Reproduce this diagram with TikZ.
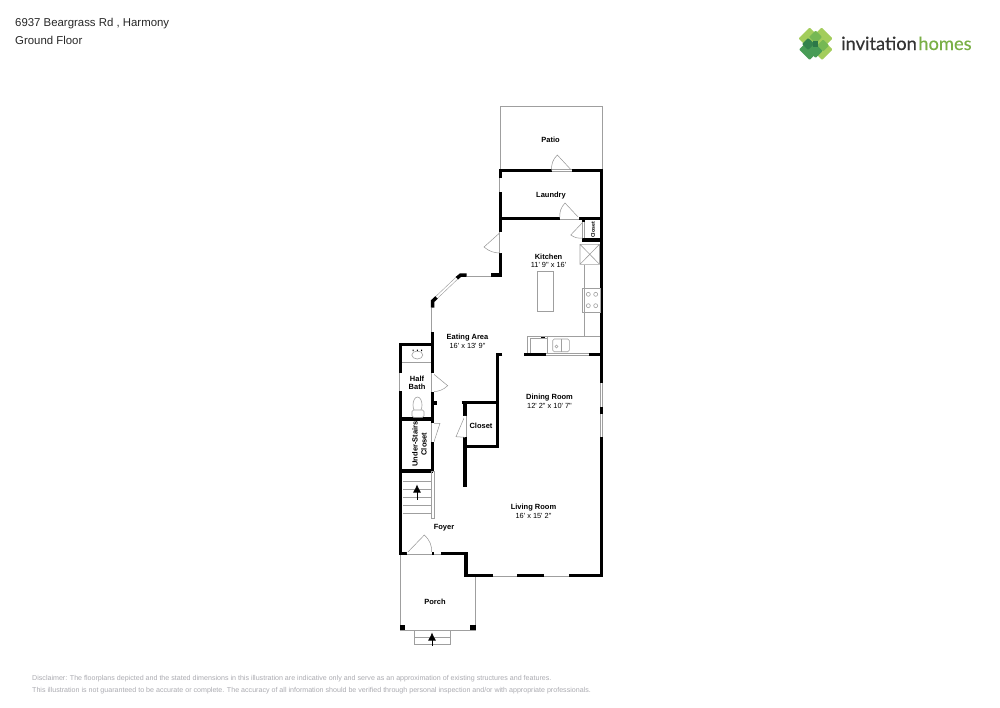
\documentclass[tikz,border=0pt]{standalone}
\usepackage{fontspec}
\newfontfamily\planfont{Liberation Sans}
\newfontfamily\logofont[FakeBold=0.3]{Lato}
\usetikzlibrary{arrows.meta}
\definecolor{leaf}{RGB}{163,205,92}
\definecolor{moss}{RGB}{118,184,84}
\definecolor{fern}{RGB}{72,156,86}
\definecolor{pine}{RGB}{44,120,72}
\definecolor{homes}{RGB}{122,175,70}
\definecolor{fineprint}{RGB}{170,170,176}
\begin{document}
\begin{tikzpicture}[x=1pt,y=-1pt,
    wall/.style={line width=3.5pt,black},
    pane/.style={draw=gray!75,line width=0.6pt,double=white,double distance=1.8pt},
    fixture/.style={draw=gray!75,line width=0.6pt},
    swing/.style={draw=gray!85,line width=0.5pt},
    room/.style={font=\planfont\bfseries\fontsize{7.5}{8}\selectfont,inner sep=0pt},
    size/.style={font=\planfont\fontsize{7.4}{8}\selectfont,inner sep=0pt},
    fine/.style={font=\planfont\fontsize{7.1}{8}\selectfont,text=fineprint,inner sep=0pt,anchor=base west},
    head/.style={font=\planfont\fontsize{11.4}{13}\selectfont,text=black!85,inner sep=0pt,anchor=base west}]
    \useasboundingbox (0,0) rectangle (1000,707);
    % Header
    \node[head] (address) at (15,26) {6937 Beargrass Rd , Harmony};
    \node[head] (floor) at (15,44) {Ground Floor};
    % Logo
    \foreach \x/\y/\r/\c in {809.5/38.5/11/leaf, 821.5/38.5/11/leaf, 822/49.5/10.5/leaf, 809.5/49.5/10.5/fern,
        815.5/37/6.5/moss, 823/45.5/6/moss, 815.5/51/7/fern, 808/44/6/pine!70!fern}
        \fill[\c,rounded corners=1pt] (\x-\r,\y) -- (\x,\y-\r) -- (\x+\r,\y) -- (\x,\y+\r) -- cycle;
    \fill[pine] (812.5,41) rectangle (818,47);
    \node[inner sep=0pt,anchor=base west,font=\logofont\fontsize{18.3}{20}\selectfont] (logotext) at (841,50)
        {\textcolor{black!80}{invitation}\kern1.5pt\textcolor{homes}{homes}};
    % Patio and porch
    \draw[fixture] (500,170) -- (500,106.7) -- (602,106.7) -- (602,170);
    \draw[fixture] (400,553) -- (400,630) -- (475,630) -- (475,575);
    \fill (399.5,624.5) rectangle (405,630);
    \fill (470,624.5) rectangle (475.5,630);
    \draw[fixture] (414.3,630) rectangle (450,644.3) (414.3,637.3) -- (450,637.3);
    % Outer walls
    \draw[wall] (551.7,170.5) -- (500.7,170.5) -- (500.7,178);
    \draw[wall] (571.7,170.5) -- (601.5,170.5) -- (601.5,383);
    \draw[wall] (601.5,407) -- (601.5,414);
    \draw[wall] (601.5,437) -- (601.5,575.3) -- (569,575.3);
    \draw[wall] (544.3,575.3) -- (516.7,575.3);
    \draw[wall] (492.7,575.3) -- (466,575.3) -- (466,553.3) -- (441,553.3);
    \draw[wall] (434,553.3) -- (431.7,553.3);
    \draw[wall] (406.7,553.3) -- (400.7,553.3) -- (400.7,391);
    \draw[wall] (400.7,373) -- (400.7,344.3) -- (432.7,344.3);
    \draw[wall] (500.7,192) -- (500.7,232);
    \draw[wall] (500.7,253) -- (500.7,275) -- (491,275);
    \draw[wall] (466.7,275) -- (460.7,275) -- (456.7,278.3);
    \draw[wall] (436.7,297.3) -- (432.7,301) -- (432.7,307.7);
    \draw[wall] (432.7,331.7) -- (432.7,373.3);
    \draw[wall] (432.7,391.7) -- (432.7,423.3);
    \draw[wall] (432.7,441.7) -- (432.7,471);
    % Inner walls
    \draw[wall] (432.7,403) -- (437,403);
    \draw[wall] (400.7,419) -- (432.7,419);
    \draw[wall] (400.7,471) -- (432.7,471);
    \draw[wall] (500.7,218.3) -- (560,218.3);
    \draw[wall] (579.3,218.3) -- (601.5,218.3);
    \draw[wall] (583.5,218.3) -- (583.5,222);
    \draw[wall] (583.5,238) -- (583.5,240) -- (601.5,240);
    \draw[wall] (524.3,354.5) -- (546,354.5);
    \draw[wall] (589.3,354.5) -- (601.5,354.5);
    \draw[wall] (502.3,354.3) -- (497.3,354.3) -- (497.3,446.5) -- (465,446.5);
    \draw[wall] (461.7,402.7) -- (497.3,402.7);
    \draw[wall] (465,402.7) -- (465,415.7);
    \draw[wall] (465,437.3) -- (465,486.7);
    % Windows
    \foreach \a/\b/\c/\d in {601.5/383/601.5/407, 601.5/414/601.5/437, 569/575.3/544.3/575.3,
        516.7/575.3/492.7/575.3, 441/553.3/434/553.3, 400.7/391/400.7/373, 500.7/178/500.7/192,
        491/275/466.7/275, 456.7/278.3/436.7/297.3, 432.7/307.7/432.7/331.7, 546/354.5/589.3/354.5}
        \draw[pane] (\a,\b) -- (\c,\d);
    % Doors
    \foreach \a/\b/\p/\q/\c/\d in {551.7/170.5/557.3/155/571.7/170.5, 560/218.3/565/203/579.3/218.3}{
        \draw[swing] (\a,\b) to[bend left=25] (\p,\q) -- (\c,\d);
        \draw[pane] (\a,\b) -- (\c,\d);
    }
    \draw[swing] (406.7,553.3) -- (424.3,535) to[bend left=25] (431.7,553.3);
    \draw[pane] (406.7,553.3) -- (431.7,553.3);
    \draw[swing] (583,222) -- (570.7,235) to[bend right=20] (583,238);
    \draw[pane] (583.5,222) -- (583.5,238);
    \draw[swing] (500.7,232) -- (484,247) to[bend right=20] (500.7,253);
    \draw[pane] (500.7,232) -- (500.7,253);
    \draw[swing] (432.7,373.3) -- (447.7,385.7) to[bend left=20] (432.7,391.7);
    \draw[pane] (432.7,373.3) -- (432.7,391.7);
    \draw[swing] (432.7,423.3) -- (440,423.3) -- (434,441.7);
    \draw[pane] (432.7,423.3) -- (432.7,441.7);
    \draw[swing] (465,415.7) -- (456,436.7) -- (465,437.3);
    \draw[pane] (465,415.7) -- (465,437.3);
    % Kitchen fixtures
    \draw[fixture] (537.3,271.7) rectangle (553.3,311.7);
    \draw[fixture] (580,244.3) rectangle (599.5,264.3) (580,244.3) -- (599.5,264.3) (580,264.3) -- (599.5,244.3);
    \draw[fixture] (584.3,265) -- (584.3,336.7);
    \draw[fixture] (582.3,288.3) rectangle (600,312.3);
    \foreach \x/\y in {588.3/294.3, 595.7/294.3, 588.3/305.7, 595.7/305.7}
        \draw[fixture] (\x,\y) circle (2pt);
    \draw[fixture] (600,336.7) -- (527.3,336.7) -- (527.3,353);
    \draw[fixture] (547.7,352.7) -- (547.7,337);
    \draw[fixture] (530.7,353) -- (530.7,338.5) -- (547.7,338.5);
    \draw[fixture,rounded corners=1.5pt] (552.7,339) rectangle (569.3,351.7);
    \draw[fixture] (561,339) -- (561,351.7);
    \draw[fixture] (556.5,346.5) circle (1.5pt);
    \fill (541,336.5) rectangle (544.5,338);
    % Half bath fixtures
    \draw[fixture] (402,362.3) -- (431,362.3);
    \draw[fixture] (417.3,355) ellipse (5.5pt and 4pt);
    \fill (412.5,349.5) rectangle (413.5,351) (416.8,349.5) rectangle (417.8,351) (421,349.5) rectangle (422,351);
    \draw[fixture] (417.5,405) ellipse (4.5pt and 8pt);
    \draw[fixture,fill=white,rounded corners=1.5pt] (412,410) rectangle (424,417.3);
    % Stairs
    \foreach \y in {481, 489.3, 497.3, 505, 513.3}
        \draw[fixture] (402.5,\y) -- (431,\y);
    \draw[fixture] (431.2,471) rectangle (434.2,518.3);
    \draw[-{Latex[length=8pt,width=8pt]},line width=0.8pt] (417,499.5) -- (417,484.5);
    \draw[-{Latex[length=8pt,width=8pt]},line width=0.8pt] (432,646) -- (432,632.5);
    % Labels
    \foreach \n/\x/\y/\l in {patio/550.5/139.5/Patio, laundry/551/196/Laundry, kitchen/548.5/256.5/Kitchen,
        eating/467.5/338/Eating Area, half/417/378.5/Half, bath/417/387/Bath, dining/549.5/397.5/Dining Room,
        closet/481/425.5/Closet, living/533.5/507.5/Living Room, foyer/444/528/Foyer, porch/435/601.5/Porch}
        \node[room] (\n) at (\x,\y) {\l};
    \foreach \n/\x/\y/\l in {kitchensize/548.5/264.5/{11' 9" x 16'}, eatingsize/467.5/346/{16' x 13' 9"},
        diningsize/549.5/405.5/{12' 2" x 10' 7"}, livingsize/533.5/515.5/{16' x 15' 2"}}
        \node[size] (\n) at (\x,\y) {\l};
    \node[room,rotate=90] (under) at (415,444) {Under-Stairs};
    \node[room,rotate=90] (understair) at (424,444) {Closet};
    \node[room,rotate=90,font=\planfont\bfseries\fontsize{5.2}{6}\selectfont] (pantry) at (593,230) {Closet};
    % Disclaimer
    \node[fine] (note) at (32,680.5) {Disclaimer: The floorplans depicted and the stated dimensions in this illustration are indicative only and serve as an approximation of existing structures and features.};
    \node[fine] (notetwo) at (32,692.5) {This illustration is not guaranteed to be accurate or complete. The accuracy of all information should be verified through personal inspection and/or with appropriate professionals.};
\end{tikzpicture}
\end{document}
